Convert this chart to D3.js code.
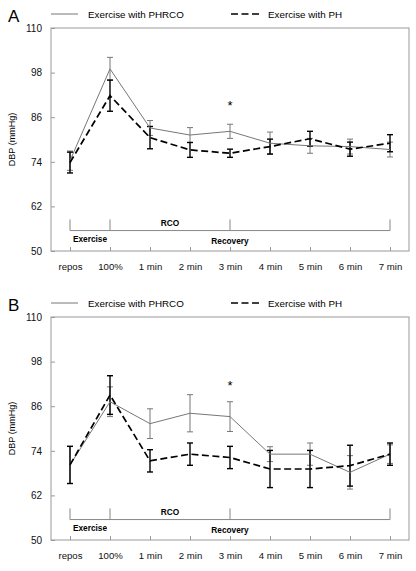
<!DOCTYPE html>
<html><head><meta charset="utf-8">
<script src="https://cdn.jsdelivr.net/npm/d3@7"></script>
<style>body{margin:0;background:#fff;} text{font-family:"Liberation Sans",Arial,sans-serif;}</style>
</head><body>
<svg id="c" width="416" height="571"></svg>
<script>
const categories = ["repos","100%","1 min","2 min","3 min","4 min","5 min","6 min","7 min"];
const yTicks = [50,62,74,86,98,110];
const seriesNames = ["Exercise with PHRCO","Exercise with PH"];

const A_phrco     = [74.3, 99.0, 83.1, 81.2, 82.2, 79.0, 78.3, 78.1, 77.3];
const A_phrco_err = [2.6, 3.1, 2.0, 2.0, 1.9, 3.0, 2.0, 2.0, 2.0];
const A_ph        = [73.8, 91.8, 80.5, 77.2, 76.3, 78.1, 80.2, 77.4, 79.0];
const A_ph_err    = [2.8, 4.2, 3.0, 2.0, 1.1, 2.0, 2.0, 1.9, 2.3];

const B_phrco     = [70.2, 87.2, 81.3, 84.1, 83.2, 73.1, 73.1, 68.2, 73.1];
const B_phrco_err = [5.0, 4.0, 4.0, 5.0, 4.0, 2.0, 3.0, 4.5, 2.5];
const B_ph        = [70.2, 89.0, 71.3, 73.1, 72.2, 69.1, 69.1, 70.0, 73.1];
const B_ph_err    = [5.0, 5.2, 3.0, 3.0, 3.0, 5.0, 5.0, 5.5, 3.0];

const sigA = {cat:"3 min", value:89.7};
const sigB = {cat:"3 min", value:92.0};

const phaseTicks = ["repos","100%","3 min","7 min"];
const phaseLevels = {line:55.5, top:58.5};
const phaseLabels = [
  {text:"RCO", from:"100%", to:"3 min", value:57.2},
  {text:"Exercise", from:"repos", to:"100%", value:53.0},
  {text:"Recovery", from:"3 min", to:"3 min", value:52.5}
];

const svg = d3.select("#c");
const x = d3.scalePoint().domain(categories).range([50,410]).padding(0.5);
const y = d3.scaleLinear().domain([50,110]).range([251,28]);

const grayCol = "#777", boxCol = "#999";

function panel(offY, letter, s1, e1, s2, e2, sig){
  const g = svg.append("g").attr("transform",`translate(0,${offY})`);
  g.append("text").attr("x",8).attr("y",22).attr("font-size",17).text(letter);
  // legend
  g.append("line").attr("x1",51).attr("x2",78).attr("y1",14).attr("y2",14).attr("stroke",grayCol).attr("stroke-width",1);
  g.append("text").attr("x",88).attr("y",17.5).attr("font-size",9.8).text(seriesNames[0]);
  g.append("line").attr("x1",231).attr("x2",259).attr("y1",14).attr("y2",14).attr("stroke","#000").attr("stroke-width",1.7).attr("stroke-dasharray","7,3.5");
  g.append("text").attr("x",268).attr("y",17.5).attr("font-size",9.8).text(seriesNames[1]);

  // box
  g.append("rect").attr("x",51).attr("y",y(110)).attr("width",358).attr("height",y(50)-y(110))
    .attr("fill","none").attr("stroke",boxCol).attr("stroke-width",1);
  const ya = g.append("g").attr("transform","translate(51,0)")
    .call(d3.axisLeft(y).tickValues(yTicks).tickSize(-4).tickPadding(9));
  ya.select(".domain").remove();
  ya.selectAll("line").attr("stroke",boxCol);
  ya.selectAll("text").attr("font-size",10).attr("font-family","Liberation Sans, Arial, sans-serif").attr("fill","#111");
  const xa = g.append("g").attr("transform",`translate(0,${y(50)})`)
    .call(d3.axisBottom(x).tickSize(-4).tickPadding(12));
  xa.select(".domain").remove();
  xa.selectAll("line").attr("stroke",boxCol);
  xa.selectAll("text").attr("font-size",9.6).attr("font-family","Liberation Sans, Arial, sans-serif").attr("fill","#111");
  g.append("text").attr("transform",`translate(15,${(y(50)+y(110))/2}) rotate(-90)`)
    .attr("text-anchor","middle").attr("font-size",9).text("DBP (mmHg)");

  // phase bracket
  g.append("line").attr("x1",x(phaseTicks[0])).attr("x2",x(phaseTicks[phaseTicks.length-1]))
    .attr("y1",y(phaseLevels.line)).attr("y2",y(phaseLevels.line)).attr("stroke","#888");
  phaseTicks.forEach(c=>{
    g.append("line").attr("x1",x(c)).attr("x2",x(c)).attr("y1",y(phaseLevels.line)).attr("y2",y(phaseLevels.top)).attr("stroke","#888");
  });
  phaseLabels.forEach(p=>{
    g.append("text").attr("x",(x(p.from)+x(p.to))/2).attr("y",y(p.value)).attr("text-anchor","middle")
      .attr("font-size",8.3).attr("font-weight","bold").attr("dominant-baseline","middle").text(p.text);
  });

  const line = d3.line().x((d,i)=>x(categories[i])).y(d=>y(d));
  function errs(vals, errsArr, col, w){
    vals.forEach((v,i)=>{
      const cx = x(categories[i]);
      g.append("line").attr("x1",cx).attr("x2",cx).attr("y1",y(v-errsArr[i])).attr("y2",y(v+errsArr[i])).attr("stroke",col).attr("stroke-width",w);
      [v-errsArr[i], v+errsArr[i]].forEach(e=>{
        g.append("line").attr("x1",cx-3).attr("x2",cx+3).attr("y1",y(e)).attr("y2",y(e)).attr("stroke",col).attr("stroke-width",w);
      });
    });
  }
  errs(s1,e1,grayCol,1);
  errs(s2,e2,"#000",1.4);
  g.append("path").datum(s1).attr("d",line).attr("fill","none").attr("stroke",grayCol).attr("stroke-width",1);
  g.append("path").datum(s2).attr("d",line).attr("fill","none").attr("stroke","#000").attr("stroke-width",1.7).attr("stroke-dasharray","7,3.5");

  g.append("text").attr("x",x(sig.cat)).attr("y",y(sig.value)+6.5).attr("text-anchor","middle").attr("font-size",13).text("*");
}

panel(0,"A",A_phrco,A_phrco_err,A_ph,A_ph_err,sigA);
panel(289,"B",B_phrco,B_phrco_err,B_ph,B_ph_err,sigB);
</script>
</body></html>
